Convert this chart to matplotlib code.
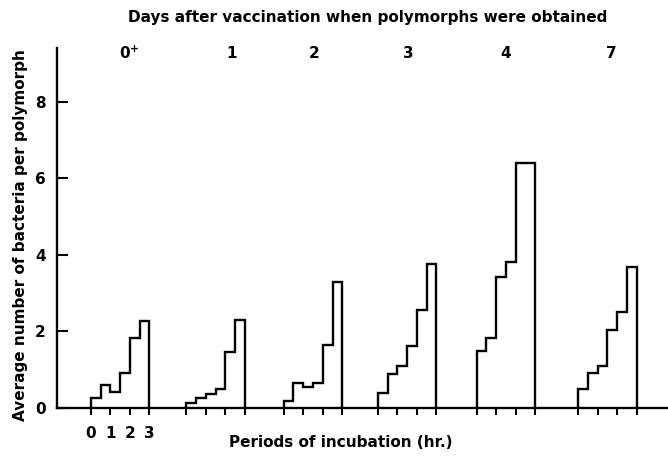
import numpy as np
import matplotlib.pyplot as plt

# days after vaccination and the mean bacteria per polymorph at each half hour
days = ['0$^{\\mathbf{+}}$', '1', '2', '3', '4', '7']
half_hours = [0, 0.5, 1, 1.5, 2, 2.5, 3]
day4_edges = [0, 0.5, 1, 1.5, 2, 3]

counts_0 = [0.25, 0.61, 0.43, 0.92, 1.82, 2.28]
counts_1 = [0.13, 0.26, 0.37, 0.49, 1.46, 2.31]
counts_2 = [0.18, 0.64, 0.55, 0.64, 1.65, 3.29]
counts_3 = [0.40, 0.90, 1.10, 1.61, 2.55, 3.76]
counts_4 = [1.50, 1.84, 3.43, 3.81, 6.40]
counts_7 = [0.50, 0.92, 1.10, 2.03, 2.51, 3.68]

hour_ticks = [0, 1, 2, 3]
y_ticks = [0, 2, 4, 6, 8]

# where each block starts along the axis (in hours) and where its label goes
group_start = [1.74, 6.63, 11.62, 16.44, 21.5, 26.7]
label_x = [3.7, 8.94, 13.2, 18.0, 23.0, 28.4]

groups = [
    (half_hours, counts_0),
    (half_hours, counts_1),
    (half_hours, counts_2),
    (half_hours, counts_3),
    (day4_edges, counts_4),
    (half_hours, counts_7),
]

plt.rcParams['font.family'] = 'DejaVu Sans'
plt.rcParams['font.weight'] = 'bold'
plt.rcParams['mathtext.default'] = 'bf'

fig = plt.figure(figsize=(6.68, 4.61), dpi=100)
ax = fig.add_axes([0.085, 0.115, 0.915, 0.781])

for start, (edges, vals) in zip(group_start, groups):
    ax.stairs(vals, np.array(edges) + start, baseline=0, fill=False,
              color='black', linewidth=1.7)

ticks = []
labels = []
for i, start in enumerate(group_start):
    for h in hour_ticks:
        ticks.append(start + h)
        labels.append(str(h) if i == 0 else '')
ax.set_xticks(ticks)
ax.set_xticklabels(labels, fontsize=11, fontweight='bold')
ax.tick_params(axis='x', direction='out', length=5, width=1.5, pad=8)

ax.set_yticks(y_ticks)
ax.set_yticklabels([str(v) for v in y_ticks], fontsize=11, fontweight='bold')
ax.tick_params(axis='y', direction='in', length=8, width=1.5, pad=8)

ax.set_xlim(0, 31.3)
ax.set_ylim(0, 9.4)

for s in ['top', 'right']:
    ax.spines[s].set_visible(False)
for s in ['left', 'bottom']:
    ax.spines[s].set_linewidth(1.7)

for x, d in zip(label_x, days):
    ax.text(x, 0.985, d, transform=ax.get_xaxis_transform(), ha='center',
            va='center', fontsize=11, fontweight='bold')

fig.text(0.551, 0.961, 'Days after vaccination when polymorphs were obtained',
         ha='center', va='center', fontsize=11, fontweight='bold')
fig.text(0.51, 0.04, 'Periods of incubation (hr.)', ha='center', va='center',
         fontsize=11, fontweight='bold')
fig.text(0.03, 0.49, 'Average number of bacteria per polymorph', ha='center',
         va='center', rotation=90, fontsize=11, fontweight='bold')

fig.savefig('out.png', dpi=100)
